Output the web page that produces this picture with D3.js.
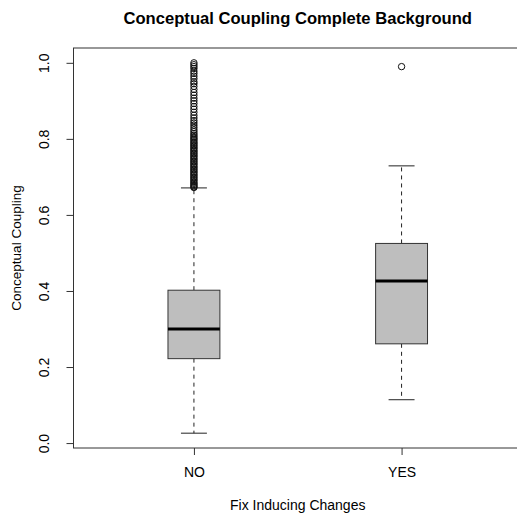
<!DOCTYPE html>
<html>
<head>
<meta charset="utf-8">
<script src="https://cdn.jsdelivr.net/npm/d3@7"></script>
<style>
  html, body { margin: 0; padding: 0; background: #fff; }
  svg { display: block; font-family: "Liberation Sans", Arial, Helvetica, sans-serif; }
</style>
</head>
<body>
<svg id="chart" width="517" height="518"></svg>
<script>
// Groups on the x axis
const categories = ["NO", "YES"];

// Five-number summaries: lower whisker, Q1, median, Q3, upper whisker
const lowerWhisker = [0.026, 0.114];
const q1           = [0.222, 0.261];
const median       = [0.300, 0.426];
const q3           = [0.402, 0.525];
const upperWhisker = [0.671, 0.729];

// Points beyond the whiskers
const outliersNO = [
  1.000, 0.995, 0.990, 0.985, 0.978, 0.972, 0.965, 0.958, 0.950, 0.945,
  0.938, 0.930, 0.922, 0.915, 0.907, 0.900, 0.893, 0.885, 0.878, 0.870,
  0.862, 0.855, 0.848, 0.842, 0.836, 0.830, 0.824, 0.819, 0.814,
  0.810, 0.806, 0.802, 0.799, 0.795, 0.791, 0.788, 0.784, 0.781, 0.777,
  0.774, 0.770, 0.767, 0.763, 0.760, 0.756, 0.753, 0.749, 0.746, 0.742,
  0.739, 0.735, 0.732, 0.728, 0.725, 0.721, 0.718, 0.714, 0.711, 0.707,
  0.704, 0.700, 0.697, 0.693, 0.690, 0.686, 0.683, 0.680, 0.677, 0.674, 0.672
];
const outliersYES = [0.990];

// Tick labels
const yTicks = [0.0, 0.2, 0.4, 0.6, 0.8, 1.0];

const title = "Conceptual Coupling Complete Background";
const xTitle = "Fix Inducing Changes";
const yTitle = "Conceptual Coupling";

const groups = categories.map((c, i) => ({
  name: c, pos: i + 1,
  lw: lowerWhisker[i], q1: q1[i], med: median[i], q3: q3[i], uw: upperWhisker[i],
  out: i === 0 ? outliersNO : outliersYES
}));

// Plot region
const plotLeft = 73.5, plotRight = 522, plotTop = 48, plotBottom = 448;

// Axis ranges with 4% padding around the data
const allVals = groups.flatMap(g => [g.lw, g.uw, ...g.out]);
const dMin = d3.min(allVals), dMax = d3.max(allVals);
const pad = (dMax - dMin) * 0.04;
const y = d3.scaleLinear().domain([dMin - pad, dMax + pad]).range([plotBottom, plotTop]);
const n = categories.length;
const xPad = n * 0.04;
const x = d3.scaleLinear().domain([0.5 - xPad, n + 0.5 + xPad]).range([plotLeft, plotRight]);

const boxHalf = 0.125;   // half box width, in category units
const capHalf = boxHalf / 2;

const svg = d3.select("#chart");
const ink = "#222";

// Boxes
const layer = svg.append("g");
groups.forEach(d => {
  const cx = x(d.pos);
  // whiskers (dashed)
  layer.append("line").attr("x1", cx).attr("x2", cx).attr("y1", y(d.q3)).attr("y2", y(d.uw))
    .attr("stroke", ink).attr("stroke-width", 1).attr("stroke-dasharray", "4,4");
  layer.append("line").attr("x1", cx).attr("x2", cx).attr("y1", y(d.q1)).attr("y2", y(d.lw))
    .attr("stroke", ink).attr("stroke-width", 1).attr("stroke-dasharray", "4,4");
  // staples
  [d.uw, d.lw].forEach(v => {
    layer.append("line")
      .attr("x1", x(d.pos - capHalf)).attr("x2", x(d.pos + capHalf))
      .attr("y1", y(v)).attr("y2", y(v))
      .attr("stroke", ink).attr("stroke-width", 1);
  });
  // box
  layer.append("rect")
    .attr("x", x(d.pos - boxHalf)).attr("width", x(d.pos + boxHalf) - x(d.pos - boxHalf))
    .attr("y", y(d.q3)).attr("height", y(d.q1) - y(d.q3))
    .attr("fill", "#bebebe").attr("stroke", "#333").attr("stroke-width", 1);
  // median
  layer.append("line")
    .attr("x1", x(d.pos - boxHalf)).attr("x2", x(d.pos + boxHalf))
    .attr("y1", y(d.med)).attr("y2", y(d.med))
    .attr("stroke", "#000").attr("stroke-width", 3);
  // outliers
  layer.selectAll(null).data(d.out).enter().append("circle")
    .attr("cx", cx).attr("cy", v => y(v)).attr("r", 3.2)
    .attr("fill", "none").attr("stroke", "#111").attr("stroke-width", 1);
});

// Frame
svg.append("rect")
  .attr("x", plotLeft).attr("y", plotTop).attr("width", plotRight - plotLeft).attr("height", plotBottom - plotTop)
  .attr("fill", "none").attr("stroke", "#333").attr("stroke-width", 1);

// Y axis
const yAxis = d3.axisLeft(y).tickValues(yTicks).tickFormat(d3.format(".1f")).tickSize(7).tickSizeOuter(0);
const ya = svg.append("g").attr("transform", `translate(${plotLeft},0)`).call(yAxis);
ya.select(".domain").attr("d", `M0,${y(yTicks[0])}V${y(yTicks[yTicks.length - 1])}`).attr("stroke", "#333");
ya.selectAll(".tick line").attr("stroke", "#333");
ya.selectAll(".tick text")
  .attr("font-size", 14).attr("fill", "#000")
  .attr("x", null).attr("dy", null)
  .attr("text-anchor", "middle")
  .attr("transform", "translate(-24.5,0) rotate(-90)")
  .attr("y", 0);

// X axis
const xAxis = d3.axisBottom(x).tickValues(groups.map(d => d.pos))
  .tickFormat((d, i) => categories[i]).tickSize(7).tickSizeOuter(0);
const xa = svg.append("g").attr("transform", `translate(0,${plotBottom})`).call(xAxis);
xa.select(".domain").remove();
xa.selectAll(".tick line").attr("stroke", "#333");
xa.selectAll(".tick text").attr("font-size", 14).attr("fill", "#000").attr("y", 24).attr("dy", "0.35em");

// Titles
const midX = (plotLeft + plotRight) / 2;
svg.append("text").attr("x", midX).attr("y", 24).attr("text-anchor", "middle")
  .attr("font-size", 16.6).attr("font-weight", "bold").attr("fill", "#000").text(title);
svg.append("text").attr("x", midX).attr("y", 510).attr("text-anchor", "middle")
  .attr("font-size", 14).attr("fill", "#000").text(xTitle);
svg.append("text").attr("transform", `translate(21,${(plotTop + plotBottom) / 2}) rotate(-90)`)
  .attr("text-anchor", "middle").attr("font-size", 13.5).attr("fill", "#000").text(yTitle);
</script>
</body>
</html>
